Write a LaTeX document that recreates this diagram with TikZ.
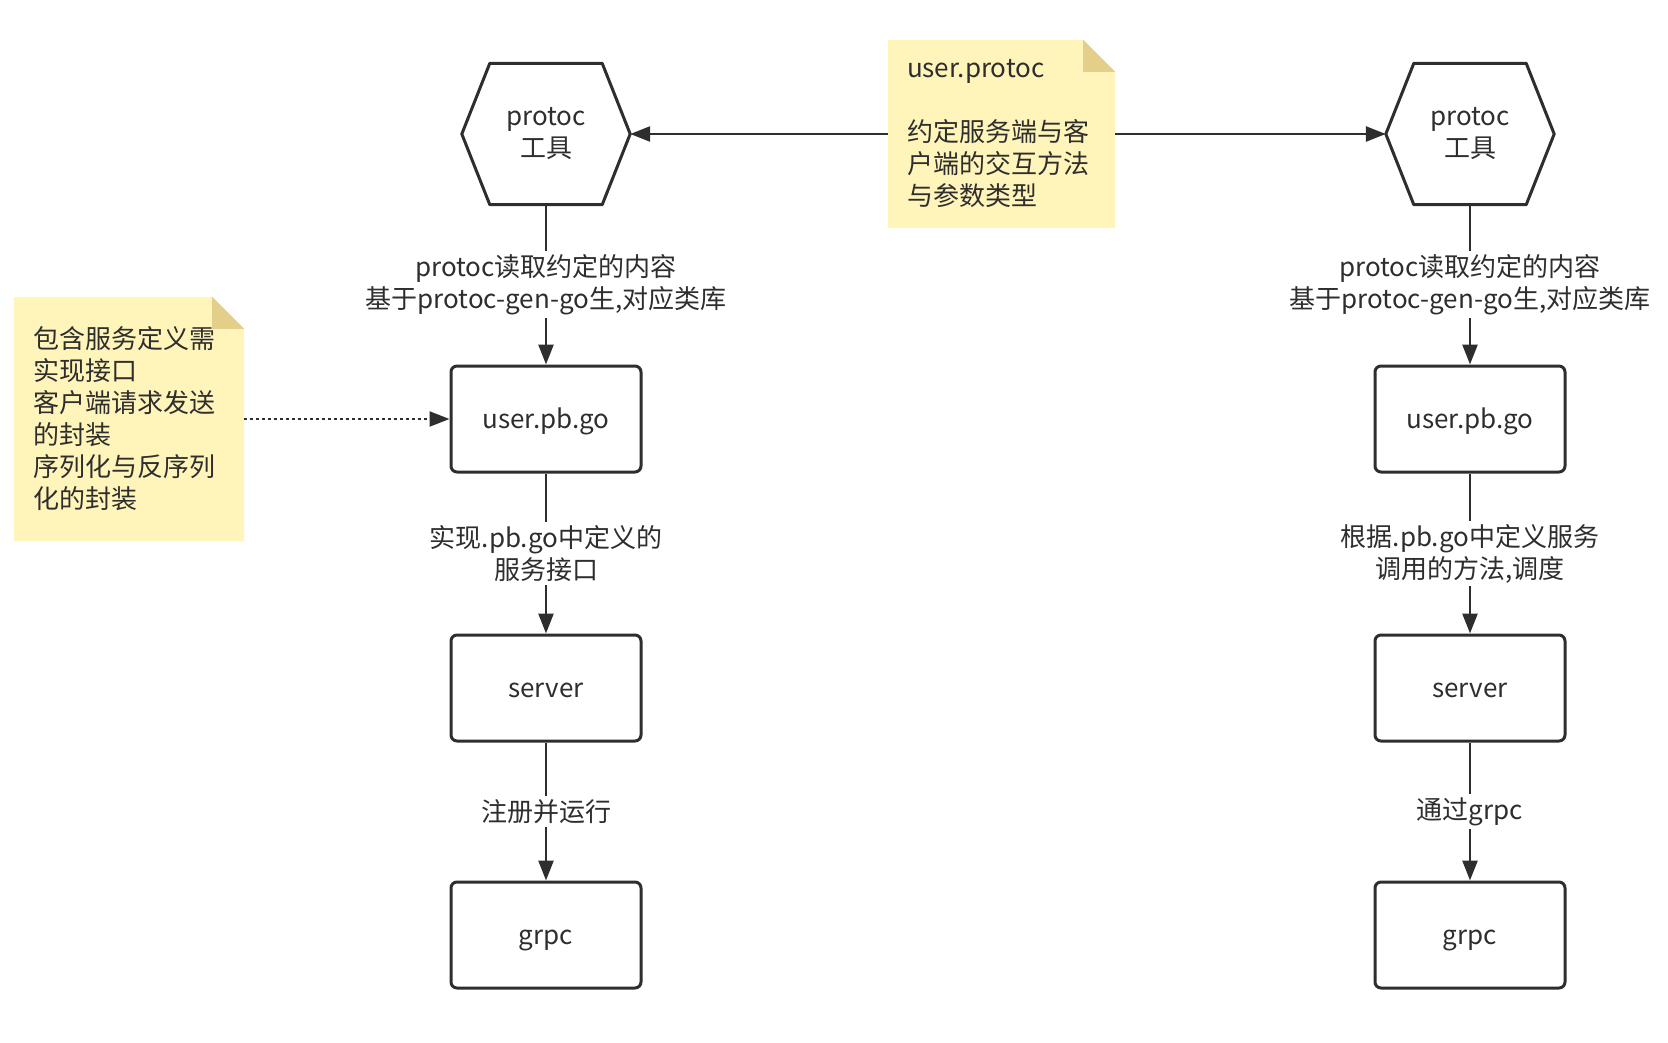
\documentclass[tikz,border=0pt]{standalone}
\usepackage{fontspec}
\setmainfont{Noto Sans CJK SC}
\usetikzlibrary{arrows.meta,backgrounds}
\definecolor{ink}{HTML}{2E2E2E}
\definecolor{notefill}{HTML}{FFF5BA}
\definecolor{notefold}{HTML}{E3CF8A}

\tikzstyle{tool} = [minimum width=168pt, minimum height=141pt, inner sep=0pt, align=center]
\tikzstyle{box} = [draw=ink, line width=3pt, rounded corners=6pt, minimum width=190pt, minimum height=106pt, align=center, text height=22pt, text depth=3pt]
\tikzstyle{note} = [inner xsep=19pt, inner ysep=0pt, align=left]
\tikzstyle{lbl} = [fill=white, inner sep=3pt, align=center]
\tikzstyle{arr} = [draw=ink, line width=2.6pt, -{Triangle[length=20pt, width=15pt]}]

\begin{document}
\begin{tikzpicture}[x=1pt, y=-1pt, font=\fontsize{26}{32}\selectfont, text=ink]
\useasboundingbox (0,0) rectangle (1668,1043);

% protoc tools
\node[tool] (ltool) at (546,134) {protoc\\工具};
\node[tool] (rtool) at (1470,134) {protoc\\工具};
\foreach \t in {ltool,rtool}
    \draw[ink, line width=3pt, line join=round] (\t.west) -- ([xshift=28pt]\t.north west)
        -- ([xshift=-28pt]\t.north east) -- (\t.east)
        -- ([xshift=-28pt]\t.south east) -- ([xshift=28pt]\t.south west) -- cycle;

% notes
\node[note, text width=189pt, minimum height=188pt] (spec) at (1001.5,134)
    {user.protoc\\[32pt]约定服务端与客\\户端的交互方法\\与参数类型};
\node[note, text width=192pt, minimum height=244pt] (hint) at (129,419)
    {包含服务定义需\\实现接口\\客户端请求发送\\的封装\\序列化与反序列\\化的封装};
\begin{scope}[on background layer]
\foreach \n in {spec,hint} {
    \fill[notefill] (\n.south west) -- (\n.north west) -- ([xshift=-32pt]\n.north east)
        -- ([yshift=-32pt]\n.north east) -- (\n.south east) -- cycle;
    \fill[notefold] ([xshift=-32pt]\n.north east) -- ([xshift=-32pt, yshift=-32pt]\n.north east)
        -- ([yshift=-32pt]\n.north east) -- cycle;
}
\end{scope}

% server side
\node[box] (lpb) at (546,419) {user.pb.go};
\node[box] (lserver) at (546,688) {server};
\node[box] (lgrpc) at (546,935) {grpc};

% client side
\node[box] (rpb) at (1470,419) {user.pb.go};
\node[box] (rserver) at (1470,688) {server};
\node[box] (rgrpc) at (1470,935) {grpc};

\draw[arr] (spec.west) -- (ltool.east);
\draw[arr] (spec.east) -- (rtool.west);
\draw[arr, line width=2.2pt, dash pattern=on 2.5pt off 3.5pt] (hint.east) -- (lpb.west);

\draw[arr] (ltool.south) -- node[lbl] {protoc读取约定的内容\\基于protoc-gen-go生,对应类库} (lpb.north);
\draw[arr] (lpb.south) -- node[lbl] {实现.pb.go中定义的\\服务接口} (lserver.north);
\draw[arr] (lserver.south) -- node[lbl] {注册并运行} (lgrpc.north);

\draw[arr] (rtool.south) -- node[lbl] {protoc读取约定的内容\\基于protoc-gen-go生,对应类库} (rpb.north);
\draw[arr] (rpb.south) -- node[lbl] {根据.pb.go中定义服务\\调用的方法,调度} (rserver.north);
\draw[arr] (rserver.south) -- node[lbl] {通过grpc} (rgrpc.north);
\end{tikzpicture}
\end{document}
